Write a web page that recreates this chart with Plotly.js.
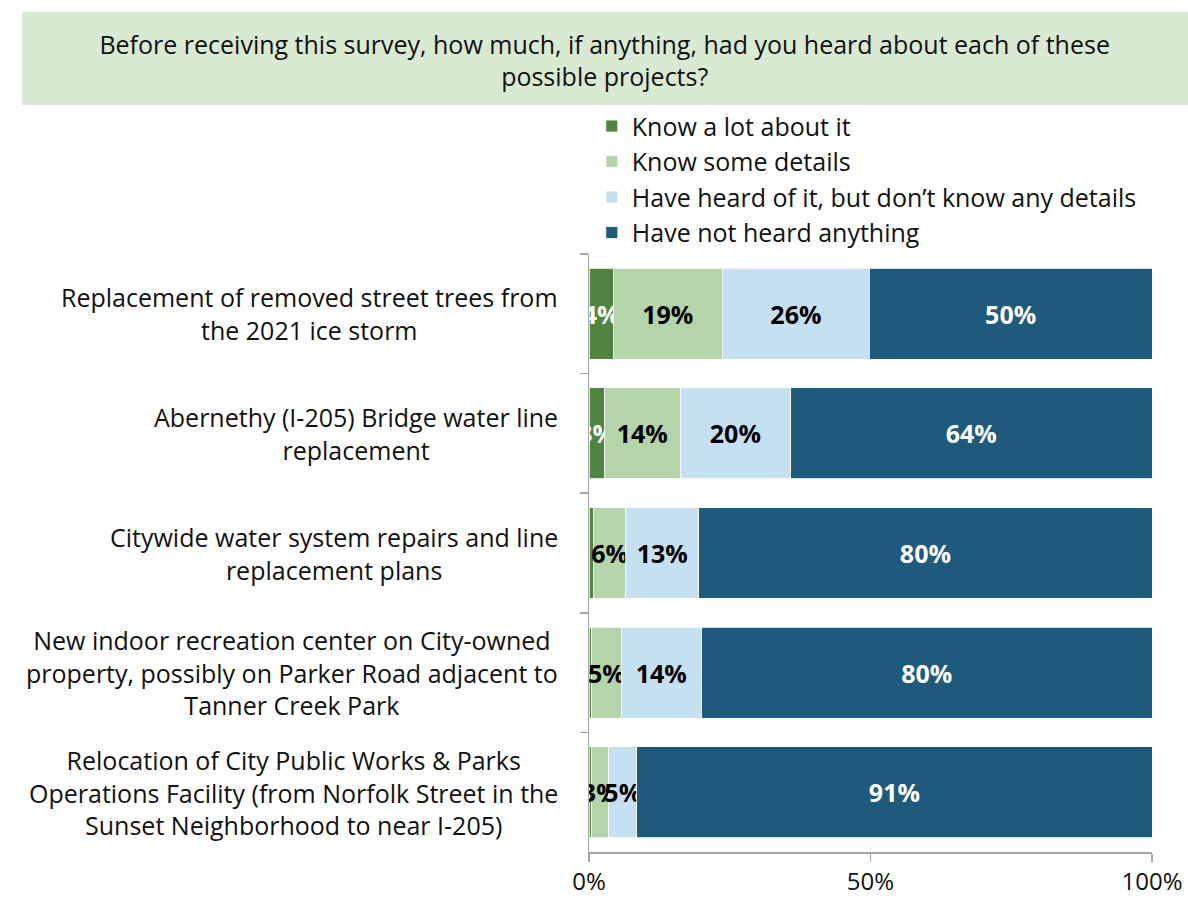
<!DOCTYPE html>
<html>
<head>
<meta charset="utf-8">
<script src="https://cdn.plot.ly/plotly-3.0.1.min.js"></script>
<style>html,body{margin:0;padding:0;background:#fff;}#chart{width:1188px;height:899px;}</style>
</head>
<body>
<div id="chart"></div>
<script>
const categories = [
  "Replacement of removed street trees from<br>the 2021 ice storm",
  "Abernethy (I-205) Bridge water line<br>replacement",
  "Citywide water system repairs and line<br>replacement plans",
  "New indoor recreation center on City-owned<br>property, possibly on Parker Road adjacent to<br>Tanner Creek Park",
  "Relocation of City Public Works &amp; Parks<br>Operations Facility (from Norfolk Street in the<br>Sunset Neighborhood to near I-205)"
];
const seriesNames = ["Know a lot about it", "Know some details", "Have heard of it, but don\u2019t know any details", "Have not heard anything"];
const knowLot   = [4.3, 2.7, 0.8, 0.5, 0.5];
const knowSome  = [19.4, 13.5, 5.7, 5.2, 3.0];
const heard     = [26.1, 19.6, 13.0, 14.3, 5.0];
const notHeard  = [50.2, 64.2, 80.5, 80.0, 91.5];
const knowLotLbl  = ["4%", "3%", "", "", ""];
const knowSomeLbl = ["19%", "14%", "6%", "5%", "3%"];
const heardLbl    = ["26%", "20%", "13%", "14%", "5%"];
const notHeardLbl = ["50%", "64%", "80%", "80%", "91%"];
const xTicks = [0, 50, 100];
const xTickLabels = ["0%", "50%", "100%"];
const titleText = "Before receiving this survey, how much, if anything, had you heard about each of these<br>possible projects?";

const colors = ["#4f8540", "#b3d5a9", "#c5e0f1", "#1e5a7b"];
const textColors = ["#ffffff", "#000000", "#000000", "#ffffff"];
const FONT = "'Open Sans', 'Noto Sans', sans-serif";
const FS = 25;

const vals = [knowLot, knowSome, heard, notHeard];
const lbls = [knowLotLbl, knowSomeLbl, heardLbl, notHeardLbl];

const traces = vals.map((v, i) => ({
  type: "bar",
  orientation: "h",
  name: seriesNames[i],
  y: categories,
  x: v,
  text: lbls[i],
  texttemplate: "%{text}",
  textposition: "inside",
  insidetextanchor: "middle",
  constraintext: "none",
  textangle: 0,
  textfont: {family: FONT, size: 25, color: textColors[i], weight: "bold"},
  marker: {color: colors[i], line: {color: "#ffffff", width: 0.8}},
  hoverinfo: "none"
}));

const annotations = categories.map(c => ({
  xref: "paper", yref: "y",
  x: -0.052, y: c,
  xanchor: "right", yanchor: "middle",
  align: "center",
  text: c,
  showarrow: false,
  font: {family: FONT, size: FS, color: "#111111"}
}));

const layout = {
  width: 1188, height: 899,
  margin: {l: 589, r: 36, t: 254, b: 47},
  paper_bgcolor: "#ffffff",
  plot_bgcolor: "#ffffff",
  barmode: "stack",
  bargap: 0.24,
  font: {family: FONT, size: FS, color: "#111111"},
  title: {
    text: titleText,
    font: {family: FONT, size: FS, color: "#111111"},
    xref: "container", yref: "container",
    x: 0.509, xanchor: "center",
    y: 0.94, yanchor: "middle"
  },
  shapes: [{
    type: "rect", xref: "paper", yref: "paper",
    x0: -1.007, x1: 1.064, y0: 1.249, y1: 1.405,
    fillcolor: "#d9ead3", line: {width: 0}, layer: "below"
  }],
  showlegend: true,
  legend: {
    x: 0.005, y: 1.252, xanchor: "left", yanchor: "top",
    traceorder: "normal",
    font: {family: FONT, size: FS, color: "#111111"},
    bgcolor: "rgba(0,0,0,0)",
    itemclick: false
  },
  xaxis: {
    range: [0, 100],
    tickvals: xTicks, ticktext: xTickLabels,
    showgrid: false, zeroline: false,
    showline: true, linecolor: "#a6a6a6", linewidth: 1.5,
    ticks: "outside", ticklen: 8, tickcolor: "#a6a6a6", tickwidth: 1.5,
    tickfont: {family: FONT, size: 24, color: "#111111"}
  },
  yaxis: {
    type: "category",
    autorange: "reversed",
    showticklabels: false,
    showgrid: false, zeroline: false,
    showline: true, linecolor: "#a6a6a6", linewidth: 1.5,
    ticks: "outside", ticklen: 8, tickcolor: "#a6a6a6", tickwidth: 1.5,
    tickson: "boundaries"
  },
  annotations: annotations
};

Plotly.newPlot("chart", traces, layout, {staticPlot: true, displayModeBar: false});
</script>
</body>
</html>
